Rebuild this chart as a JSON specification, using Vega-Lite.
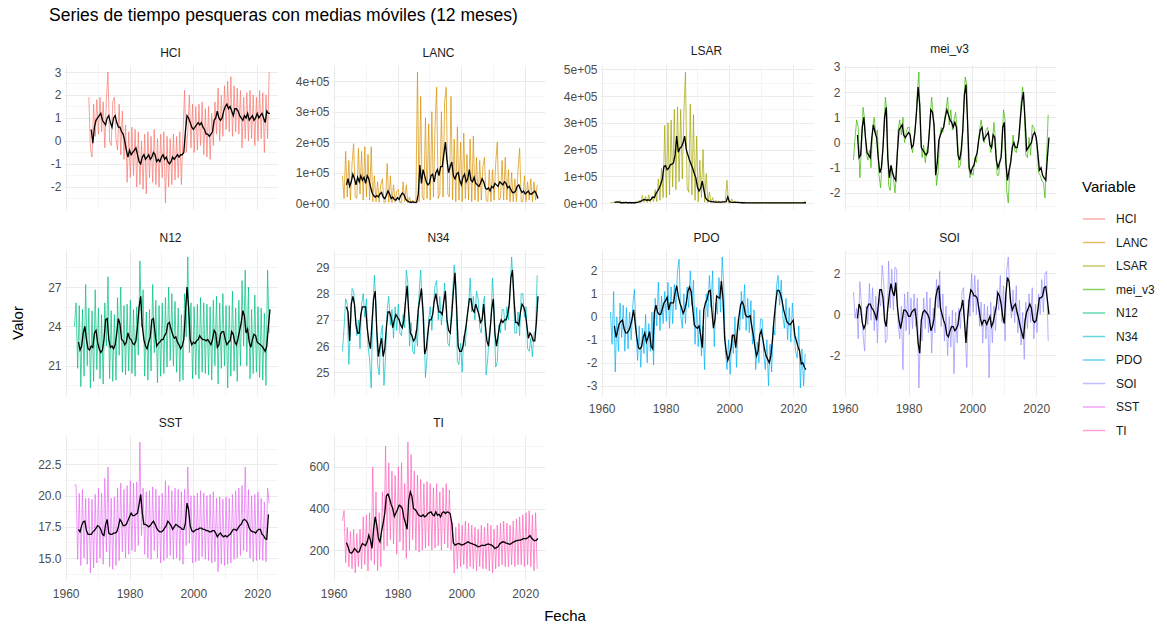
{
  "$schema": "https://vega.github.io/schema/vega-lite/v6.json",
  "background": "white",
  "padding": {"left": 10, "top": 7, "right": 5, "bottom": 5},
  "title": {"text": "Series de tiempo pesqueras con medias móviles (12 meses)", "anchor": "start", "fontSize": 17.5, "fontWeight": "normal", "color": "#000000", "offset": 18, "dx": 39},
  "data": {"values": [
    {"k":"r","t":1962.75,"LANC":90000,"LSAR":3000,"mei_v3":-0.7,"N12":24.0,"N34":25.8,"PDO":0.2,"SOI":1.1,"SST":20.8,"TI":340},
    {"k":"r","t":1963.25,"LANC":15000,"LSAR":1000,"mei_v3":0.2,"N12":25.8,"N34":26.7,"PDO":-1.2,"SOI":-0.2,"SST":20.9,"TI":390},
    {"k":"r","t":1963.75,"LANC":170000,"LSAR":4000,"mei_v3":0.9,"N12":20.8,"N34":27.8,"PDO":1.1,"SOI":0.3,"SST":14.9,"TI":140},
    {"k":"r","t":1964.25,"LANC":20000,"LSAR":1000,"mei_v3":0.6,"N12":25.6,"N34":27.6,"PDO":-2.4,"SOI":-1.2,"SST":20.2,"TI":310},
    {"k":"r","t":1964.75,"LANC":140000,"LSAR":6000,"mei_v3":-1.4,"N12":19.4,"N34":25.3,"PDO":0.0,"SOI":1.6,"SST":14.4,"TI":120},
    {"k":"r","t":1965.25,"LANC":10000,"LSAR":2000,"mei_v3":-0.3,"N12":25.3,"N34":26.6,"PDO":-1.5,"SOI":0.5,"SST":20.5,"TI":290},
    {"k":"r","t":1965.75,"LANC":130000,"LSAR":9000,"mei_v3":1.4,"N12":20.2,"N34":28.2,"PDO":0.6,"SOI":-1.0,"SST":15.0,"TI":110},
    {"k":"r","t":1966.25,"LANC":195000,"LSAR":500,"mei_v3":0.9,"N12":27.2,"N34":28.1,"PDO":-0.9,"SOI":-1.8,"SST":19.8,"TI":300},
    {"k":"r","t":1966.75,"LANC":20000,"LSAR":4000,"mei_v3":-0.4,"N12":21.0,"N34":27.2,"PDO":0.5,"SOI":0.4,"SST":14.5,"TI":90},
    {"k":"r","t":1967.25,"HCI":1.9,"LANC":15000,"LSAR":500,"mei_v3":-0.7,"N12":25.4,"N34":26.4,"PDO":-1.5,"SOI":-0.5,"SST":19.8,"TI":280},
    {"k":"r","t":1967.75,"HCI":-0.3,"LANC":180000,"LSAR":3000,"mei_v3":-0.3,"N12":19.3,"N34":27.0,"PDO":0.4,"SOI":1.5,"SST":13.8,"TI":120},
    {"k":"r","t":1968.25,"HCI":-0.7,"LANC":30000,"LSAR":500,"mei_v3":-1.0,"N12":25.2,"N34":25.9,"PDO":-1.4,"SOI":-0.3,"SST":19.7,"TI":300},
    {"k":"r","t":1968.75,"HCI":1.6,"LANC":170000,"LSAR":4000,"mei_v3":0.6,"N12":19.8,"N34":27.6,"PDO":0.2,"SOI":1.3,"SST":14.2,"TI":110},
    {"k":"r","t":1969.25,"HCI":0.2,"LANC":10000,"LSAR":500,"mei_v3":1.0,"N12":26.8,"N34":28.0,"PDO":-1.0,"SOI":-0.8,"SST":20.1,"TI":360},
    {"k":"r","t":1969.75,"HCI":1.8,"LANC":185000,"LSAR":3000,"mei_v3":0.3,"N12":20.7,"N34":27.1,"PDO":0.5,"SOI":0.9,"SST":14.6,"TI":130},
    {"k":"r","t":1970.25,"HCI":0.3,"LANC":20000,"LSAR":500,"mei_v3":0.5,"N12":25.4,"N34":27.8,"PDO":1.2,"SOI":-1.4,"SST":20.6,"TI":370},
    {"k":"r","t":1970.75,"HCI":1.9,"LANC":160000,"LSAR":5000,"mei_v3":-1.3,"N12":20.0,"N34":26.0,"PDO":-0.5,"SOI":0.8,"SST":15.0,"TI":100},
    {"k":"r","t":1971.25,"HCI":0.4,"LANC":10000,"LSAR":1000,"mei_v3":-1.8,"N12":24.9,"N34":25.5,"PDO":-1.9,"SOI":0.4,"SST":20.2,"TI":380},
    {"k":"r","t":1971.75,"HCI":1.7,"LANC":185000,"LSAR":10000,"mei_v3":-0.7,"N12":19.6,"N34":24.4,"PDO":-0.4,"SOI":2.4,"SST":14.5,"TI":150},
    {"k":"r","t":1972.25,"HCI":-0.3,"LANC":5000,"LSAR":2000,"mei_v3":0.4,"N12":25.8,"N34":27.3,"PDO":-2.2,"SOI":1.5,"SST":21.4,"TI":600},
    {"k":"r","t":1972.75,"HCI":1.8,"LANC":90000,"LSAR":28000,"mei_v3":1.8,"N12":22.5,"N34":28.7,"PDO":-0.5,"SOI":-1.4,"SST":15.5,"TI":130},
    {"k":"r","t":1973.25,"HCI":3.0,"LANC":5000,"LSAR":3000,"mei_v3":1.2,"N12":27.8,"N34":27.6,"PDO":-1.6,"SOI":-1.2,"SST":22.3,"TI":480},
    {"k":"r","t":1973.75,"HCI":0.0,"LANC":70000,"LSAR":25000,"mei_v3":-1.7,"N12":20.0,"N34":25.3,"PDO":0.1,"SOI":2.6,"SST":14.3,"TI":100},
    {"k":"r","t":1974.25,"HCI":-0.2,"LANC":3000,"LSAR":2000,"mei_v3":-1.9,"N12":25.2,"N34":24.9,"PDO":-2.0,"SOI":0.3,"SST":19.8,"TI":380},
    {"k":"r","t":1974.75,"HCI":1.7,"LANC":60000,"LSAR":30000,"mei_v3":-1.0,"N12":19.8,"N34":26.4,"PDO":-0.3,"SOI":2.2,"SST":14.1,"TI":120},
    {"k":"r","t":1975.25,"HCI":1.9,"LANC":80000,"LSAR":3000,"mei_v3":-1.4,"N12":24.9,"N34":26.8,"PDO":-1.5,"SOI":0.2,"SST":19.9,"TI":480},
    {"k":"r","t":1975.75,"HCI":0.1,"LANC":2000,"LSAR":25000,"mei_v3":-2.0,"N12":19.9,"N34":24.5,"PDO":0.2,"SOI":2.3,"SST":14.4,"TI":200},
    {"k":"r","t":1976.25,"HCI":-0.4,"LANC":5000,"LSAR":5000,"mei_v3":-1.2,"N12":26.2,"N34":25.6,"PDO":-2.1,"SOI":2.2,"SST":20.6,"TI":700},
    {"k":"r","t":1976.75,"HCI":1.6,"LANC":130000,"LSAR":50000,"mei_v3":0.5,"N12":21.8,"N34":27.4,"PDO":0.8,"SOI":-0.5,"SST":14.8,"TI":220},
    {"k":"r","t":1977.25,"HCI":-0.6,"LANC":3000,"LSAR":5000,"mei_v3":0.9,"N12":27.0,"N34":27.9,"PDO":-0.4,"SOI":-1.2,"SST":21.0,"TI":620},
    {"k":"r","t":1977.75,"HCI":1.3,"LANC":90000,"LSAR":90000,"mei_v3":0.3,"N12":20.5,"N34":26.8,"PDO":1.5,"SOI":0.4,"SST":15.5,"TI":250},
    {"k":"r","t":1978.25,"HCI":-0.8,"LANC":2000,"LSAR":10000,"mei_v3":1.0,"N12":25.6,"N34":27.4,"PDO":-0.6,"SOI":-2.7,"SST":20.5,"TI":580},
    {"k":"r","t":1978.75,"HCI":0.7,"LANC":60000,"LSAR":130000,"mei_v3":0.0,"N12":20.3,"N34":26.3,"PDO":0.9,"SOI":1.0,"SST":15.0,"TI":230},
    {"k":"r","t":1979.25,"HCI":-1.8,"LANC":3000,"LSAR":20000,"mei_v3":0.4,"N12":25.7,"N34":27.5,"PDO":-0.3,"SOI":-0.8,"SST":20.8,"TI":560},
    {"k":"r","t":1979.75,"HCI":0.4,"LANC":40000,"LSAR":290000,"mei_v3":0.6,"N12":20.6,"N34":26.6,"PDO":1.1,"SOI":1.1,"SST":15.3,"TI":180},
    {"k":"r","t":1980.25,"HCI":-1.6,"LANC":45000,"LSAR":20000,"mei_v3":0.6,"N12":26.0,"N34":27.6,"PDO":-0.2,"SOI":-1.0,"SST":21.2,"TI":600},
    {"k":"r","t":1980.75,"HCI":0.6,"LANC":2000,"LSAR":300000,"mei_v3":0.0,"N12":20.4,"N34":26.5,"PDO":1.5,"SOI":0.8,"SST":15.6,"TI":240},
    {"k":"r","t":1981.25,"HCI":-1.5,"LANC":2000,"LSAR":30000,"mei_v3":-0.4,"N12":25.3,"N34":26.4,"PDO":-0.5,"SOI":-0.7,"SST":21.0,"TI":620},
    {"k":"r","t":1981.75,"HCI":0.5,"LANC":70000,"LSAR":310000,"mei_v3":0.2,"N12":20.2,"N34":27.2,"PDO":1.3,"SOI":1.0,"SST":15.5,"TI":200},
    {"k":"r","t":1982.25,"HCI":-2.0,"LANC":5000,"LSAR":60000,"mei_v3":0.8,"N12":25.5,"N34":26.7,"PDO":-0.3,"SOI":-0.6,"SST":21.1,"TI":520},
    {"k":"r","t":1982.75,"HCI":0.4,"LANC":60000,"LSAR":350000,"mei_v3":2.0,"N12":21.8,"N34":28.9,"PDO":1.4,"SOI":0.8,"SST":16.0,"TI":160},
    {"k":"r","t":1983.25,"HCI":-1.9,"LANC":1000,"LSAR":50000,"mei_v3":2.8,"N12":29.0,"N34":28.4,"PDO":0.3,"SOI":-3.6,"SST":24.3,"TI":720},
    {"k":"r","t":1983.75,"HCI":0.0,"LANC":20000,"LSAR":360000,"mei_v3":0.5,"N12":24.0,"N34":26.0,"PDO":2.0,"SOI":-0.7,"SST":16.8,"TI":200},
    {"k":"r","t":1984.25,"HCI":-2.1,"LANC":500,"LSAR":80000,"mei_v3":-0.6,"N12":26.8,"N34":26.9,"PDO":2.5,"SOI":-1.3,"SST":20.6,"TI":660},
    {"k":"r","t":1984.75,"HCI":0.3,"LANC":10000,"LSAR":350000,"mei_v3":-0.1,"N12":20.2,"N34":25.8,"PDO":0.1,"SOI":0.8,"SST":15.3,"TI":250},
    {"k":"r","t":1985.25,"HCI":-2.3,"LANC":500,"LSAR":90000,"mei_v3":-0.8,"N12":25.1,"N34":25.7,"PDO":-0.5,"SOI":-0.7,"SST":20.3,"TI":580},
    {"k":"r","t":1985.75,"HCI":0.4,"LANC":8000,"LSAR":340000,"mei_v3":-0.3,"N12":19.9,"N34":26.6,"PDO":1.0,"SOI":1.1,"SST":15.0,"TI":200},
    {"k":"r","t":1986.25,"HCI":-1.6,"LANC":430000,"LSAR":490000,"mei_v3":-0.1,"N12":25.3,"N34":26.0,"PDO":-0.3,"SOI":-0.9,"SST":20.4,"TI":560},
    {"k":"r","t":1986.75,"HCI":0.2,"LANC":5000,"LSAR":60000,"mei_v3":1.0,"N12":20.6,"N34":28.0,"PDO":1.3,"SOI":0.8,"SST":14.9,"TI":190},
    {"k":"r","t":1987.25,"HCI":-1.8,"LANC":350000,"LSAR":40000,"mei_v3":1.8,"N12":27.2,"N34":28.9,"PDO":0.4,"SOI":-1.9,"SST":20.7,"TI":540},
    {"k":"r","t":1987.75,"HCI":0.5,"LANC":20000,"LSAR":370000,"mei_v3":1.0,"N12":22.0,"N34":27.5,"PDO":2.0,"SOI":0.3,"SST":15.6,"TI":200},
    {"k":"r","t":1988.25,"HCI":-1.9,"LANC":10000,"LSAR":30000,"mei_v3":0.3,"N12":26.0,"N34":27.0,"PDO":0.5,"SOI":-0.9,"SST":20.5,"TI":520},
    {"k":"r","t":1988.75,"HCI":0.1,"LANC":280000,"LSAR":330000,"mei_v3":-1.7,"N12":19.7,"N34":24.8,"PDO":1.6,"SOI":1.7,"SST":15.0,"TI":210},
    {"k":"r","t":1989.25,"HCI":-2.0,"LANC":15000,"LSAR":10000,"mei_v3":-1.2,"N12":25.6,"N34":25.6,"PDO":-1.2,"SOI":0.3,"SST":20.0,"TI":530},
    {"k":"r","t":1989.75,"HCI":0.3,"LANC":260000,"LSAR":250000,"mei_v3":0.2,"N12":20.2,"N34":27.0,"PDO":0.4,"SOI":2.1,"SST":14.6,"TI":220},
    {"k":"r","t":1990.25,"HCI":-1.6,"LANC":10000,"LSAR":5000,"mei_v3":0.6,"N12":25.8,"N34":27.5,"PDO":-1.3,"SOI":-0.6,"SST":20.2,"TI":520},
    {"k":"r","t":1990.75,"HCI":0.4,"LANC":300000,"LSAR":160000,"mei_v3":0.4,"N12":20.4,"N34":26.6,"PDO":0.3,"SOI":1.0,"SST":14.8,"TI":200},
    {"k":"r","t":1991.25,"HCI":-2.7,"LANC":20000,"LSAR":20000,"mei_v3":0.9,"N12":26.2,"N34":27.6,"PDO":-1.7,"SOI":-1.3,"SST":21.2,"TI":500},
    {"k":"r","t":1991.75,"HCI":0.2,"LANC":250000,"LSAR":200000,"mei_v3":1.3,"N12":20.9,"N34":28.3,"PDO":-0.4,"SOI":0.4,"SST":15.0,"TI":210},
    {"k":"r","t":1992.25,"HCI":-2.0,"LANC":380000,"LSAR":3000,"mei_v3":1.8,"N12":27.0,"N34":28.5,"PDO":-2.3,"SOI":-2.0,"SST":20.8,"TI":520},
    {"k":"r","t":1992.75,"HCI":0.1,"LANC":15000,"LSAR":110000,"mei_v3":0.7,"N12":21.4,"N34":27.0,"PDO":1.0,"SOI":-0.1,"SST":15.2,"TI":220},
    {"k":"r","t":1993.25,"HCI":-1.9,"LANC":30000,"LSAR":1000,"mei_v3":1.3,"N12":26.5,"N34":27.9,"PDO":0.0,"SOI":-1.6,"SST":20.4,"TI":480},
    {"k":"r","t":1993.75,"HCI":0.3,"LANC":300000,"LSAR":40000,"mei_v3":0.5,"N12":21.0,"N34":26.8,"PDO":1.8,"SOI":0.2,"SST":14.9,"TI":200},
    {"k":"r","t":1994.25,"HCI":-1.7,"LANC":20000,"LSAR":500,"mei_v3":0.9,"N12":25.9,"N34":27.5,"PDO":0.4,"SOI":-2.9,"SST":20.6,"TI":500},
    {"k":"r","t":1994.75,"HCI":0.2,"LANC":330000,"LSAR":20000,"mei_v3":1.2,"N12":20.5,"N34":28.4,"PDO":2.0,"SOI":0.1,"SST":15.0,"TI":230},
    {"k":"r","t":1995.25,"HCI":-1.6,"LANC":380000,"LSAR":500,"mei_v3":0.5,"N12":25.4,"N34":27.4,"PDO":-1.3,"SOI":-1.4,"SST":20.5,"TI":520},
    {"k":"r","t":1995.75,"HCI":0.4,"LANC":30000,"LSAR":10000,"mei_v3":-1.0,"N12":19.8,"N34":26.1,"PDO":0.6,"SOI":0.3,"SST":14.8,"TI":210},
    {"k":"r","t":1996.25,"HCI":-1.9,"LANC":20000,"LSAR":500,"mei_v3":-0.9,"N12":24.9,"N34":26.0,"PDO":0.1,"SOI":-0.7,"SST":20.3,"TI":490},
    {"k":"r","t":1996.75,"HCI":0.3,"LANC":350000,"LSAR":8000,"mei_v3":-0.2,"N12":19.9,"N34":27.1,"PDO":1.7,"SOI":1.1,"SST":14.5,"TI":200},
    {"k":"r","t":1997.25,"HCI":2.2,"LANC":10000,"LSAR":500,"mei_v3":1.2,"N12":26.5,"N34":28.0,"PDO":0.2,"SOI":1.3,"SST":20.5,"TI":330},
    {"k":"r","t":1997.75,"HCI":-0.5,"LANC":210000,"LSAR":6000,"mei_v3":2.6,"N12":23.2,"N34":29.1,"PDO":2.6,"SOI":-1.0,"SST":16.0,"TI":90},
    {"k":"r","t":1998.25,"HCI":0.4,"LANC":5000,"LSAR":500,"mei_v3":2.3,"N12":29.3,"N34":28.4,"PDO":1.3,"SOI":-2.6,"SST":22.3,"TI":310},
    {"k":"r","t":1998.75,"HCI":2.0,"LANC":250000,"LSAR":10000,"mei_v3":-0.8,"N12":22.0,"N34":25.4,"PDO":-1.5,"SOI":0.7,"SST":16.2,"TI":110},
    {"k":"r","t":1999.25,"HCI":-0.3,"LANC":10000,"LSAR":85000,"mei_v3":-1.4,"N12":25.8,"N34":25.3,"PDO":-2.3,"SOI":-0.1,"SST":20.0,"TI":330},
    {"k":"r","t":1999.75,"HCI":1.6,"LANC":200000,"LSAR":500,"mei_v3":-1.2,"N12":20.0,"N34":26.1,"PDO":-1.0,"SOI":2.0,"SST":14.6,"TI":120},
    {"k":"r","t":2000.25,"HCI":-0.5,"LANC":5000,"LSAR":500,"mei_v3":-1.3,"N12":25.5,"N34":25.0,"PDO":-2.5,"SOI":0.1,"SST":20.0,"TI":320},
    {"k":"r","t":2000.75,"HCI":1.5,"LANC":230000,"LSAR":15000,"mei_v3":-0.6,"N12":20.3,"N34":26.4,"PDO":-0.8,"SOI":1.9,"SST":14.7,"TI":130},
    {"k":"r","t":2001.25,"HCI":-0.4,"LANC":15000,"LSAR":500,"mei_v3":-0.8,"N12":25.7,"N34":26.0,"PDO":-1.6,"SOI":0.0,"SST":20.2,"TI":340},
    {"k":"r","t":2001.75,"HCI":1.6,"LANC":160000,"LSAR":8000,"mei_v3":-0.1,"N12":20.0,"N34":27.1,"PDO":0.0,"SOI":1.7,"SST":14.8,"TI":110},
    {"k":"r","t":2002.25,"HCI":-0.2,"LANC":10000,"LSAR":500,"mei_v3":0.5,"N12":26.2,"N34":27.5,"PDO":-2.2,"SOI":-0.6,"SST":20.4,"TI":330},
    {"k":"r","t":2002.75,"HCI":1.7,"LANC":210000,"LSAR":6000,"mei_v3":0.9,"N12":20.5,"N34":28.6,"PDO":-0.1,"SOI":0.6,"SST":15.1,"TI":120},
    {"k":"r","t":2003.25,"HCI":-0.6,"LANC":5000,"LSAR":200,"mei_v3":0.4,"N12":25.8,"N34":27.3,"PDO":-0.6,"SOI":-1.4,"SST":20.2,"TI":320},
    {"k":"r","t":2003.75,"HCI":1.4,"LANC":220000,"LSAR":4000,"mei_v3":0.0,"N12":20.4,"N34":27.9,"PDO":1.1,"SOI":0.5,"SST":14.9,"TI":110},
    {"k":"r","t":2004.25,"HCI":-0.7,"LANC":10000,"LSAR":200,"mei_v3":0.5,"N12":25.7,"N34":27.0,"PDO":-0.1,"SOI":-1.2,"SST":20.0,"TI":310},
    {"k":"r","t":2004.75,"HCI":1.5,"LANC":150000,"LSAR":3000,"mei_v3":0.6,"N12":20.3,"N34":28.1,"PDO":1.4,"SOI":0.4,"SST":14.8,"TI":100},
    {"k":"r","t":2005.25,"HCI":-0.8,"LANC":5000,"LSAR":100,"mei_v3":0.2,"N12":25.5,"N34":27.8,"PDO":-0.6,"SOI":-3.1,"SST":20.1,"TI":300},
    {"k":"r","t":2005.75,"HCI":1.2,"LANC":140000,"LSAR":1500,"mei_v3":-0.4,"N12":19.9,"N34":26.7,"PDO":0.8,"SOI":0.6,"SST":14.6,"TI":120},
    {"k":"r","t":2006.25,"HCI":-0.2,"LANC":10000,"LSAR":100,"mei_v3":-0.1,"N12":26.0,"N34":26.5,"PDO":-0.7,"SOI":-1.4,"SST":20.3,"TI":320},
    {"k":"r","t":2006.75,"HCI":1.7,"LANC":120000,"LSAR":1200,"mei_v3":0.8,"N12":21.0,"N34":27.6,"PDO":0.7,"SOI":0.4,"SST":14.7,"TI":110},
    {"k":"r","t":2007.25,"HCI":0.3,"LANC":150000,"LSAR":0,"mei_v3":0.1,"N12":26.3,"N34":27.9,"PDO":-1.2,"SOI":-0.8,"SST":19.8,"TI":310},
    {"k":"r","t":2007.75,"HCI":2.3,"LANC":10000,"LSAR":1000,"mei_v3":-1.3,"N12":19.6,"N34":24.9,"PDO":0.3,"SOI":1.2,"SST":13.9,"TI":110},
    {"k":"r","t":2008.25,"HCI":0.0,"LANC":5000,"LSAR":0,"mei_v3":-1.3,"N12":25.8,"N34":25.5,"PDO":-2.3,"SOI":0.2,"SST":19.9,"TI":330},
    {"k":"r","t":2008.75,"HCI":2.0,"LANC":110000,"LSAR":1000,"mei_v3":-0.6,"N12":20.8,"N34":26.5,"PDO":-1.1,"SOI":1.9,"SST":14.5,"TI":100},
    {"k":"r","t":2009.25,"HCI":0.2,"LANC":5000,"LSAR":0,"mei_v3":-0.4,"N12":26.5,"N34":27.0,"PDO":-2.0,"SOI":-0.4,"SST":19.7,"TI":320},
    {"k":"r","t":2009.75,"HCI":2.4,"LANC":110000,"LSAR":800,"mei_v3":1.3,"N12":21.0,"N34":28.6,"PDO":-0.1,"SOI":1.4,"SST":14.4,"TI":90},
    {"k":"r","t":2010.25,"HCI":0.5,"LANC":10000,"LSAR":0,"mei_v3":0.9,"N12":25.6,"N34":27.4,"PDO":-0.1,"SOI":-1.3,"SST":19.9,"TI":300},
    {"k":"r","t":2010.75,"HCI":2.6,"LANC":130000,"LSAR":800,"mei_v3":-1.9,"N12":19.3,"N34":25.2,"PDO":-1.6,"SOI":2.1,"SST":14.5,"TI":110},
    {"k":"r","t":2011.25,"HCI":0.4,"LANC":200000,"LSAR":0,"mei_v3":-2.4,"N12":25.6,"N34":25.4,"PDO":-2.3,"SOI":2.8,"SST":19.8,"TI":320},
    {"k":"r","t":2011.75,"HCI":2.8,"LANC":10000,"LSAR":1000,"mei_v3":-0.9,"N12":20.2,"N34":26.8,"PDO":-1.0,"SOI":0.9,"SST":14.6,"TI":120},
    {"k":"r","t":2012.25,"HCI":0.2,"LANC":15000,"LSAR":0,"mei_v3":-0.5,"N12":26.7,"N34":26.5,"PDO":-3.0,"SOI":-0.2,"SST":20.1,"TI":330},
    {"k":"r","t":2012.75,"HCI":2.4,"LANC":140000,"LSAR":800,"mei_v3":0.3,"N12":20.6,"N34":27.4,"PDO":-1.2,"SOI":1.2,"SST":14.9,"TI":130},
    {"k":"r","t":2013.25,"HCI":0.4,"LANC":10000,"LSAR":0,"mei_v3":-0.3,"N12":25.4,"N34":27.4,"PDO":-2.4,"SOI":-0.4,"SST":20.4,"TI":340},
    {"k":"r","t":2013.75,"HCI":2.3,"LANC":150000,"LSAR":800,"mei_v3":-0.4,"N12":19.8,"N34":26.6,"PDO":-0.4,"SOI":1.4,"SST":15.0,"TI":120},
    {"k":"r","t":2014.25,"HCI":0.3,"LANC":10000,"LSAR":0,"mei_v3":0.0,"N12":26.0,"N34":27.5,"PDO":-0.8,"SOI":-0.9,"SST":20.6,"TI":330},
    {"k":"r","t":2014.75,"HCI":2.2,"LANC":110000,"LSAR":800,"mei_v3":0.4,"N12":21.0,"N34":27.0,"PDO":1.3,"SOI":0.7,"SST":15.2,"TI":120},
    {"k":"r","t":2015.25,"HCI":-0.3,"LANC":5000,"LSAR":0,"mei_v3":1.6,"N12":27.5,"N34":28.1,"PDO":1.8,"SOI":-1.5,"SST":20.8,"TI":320},
    {"k":"r","t":2015.75,"HCI":1.9,"LANC":100000,"LSAR":800,"mei_v3":2.2,"N12":22.5,"N34":29.4,"PDO":0.5,"SOI":0.1,"SST":15.6,"TI":130},
    {"k":"r","t":2016.25,"HCI":0.1,"LANC":5000,"LSAR":0,"mei_v3":1.4,"N12":28.3,"N34":28.3,"PDO":1.6,"SOI":-2.2,"SST":22.3,"TI":340},
    {"k":"r","t":2016.75,"HCI":2.1,"LANC":80000,"LSAR":800,"mei_v3":-0.5,"N12":21.0,"N34":26.5,"PDO":0.0,"SOI":0.6,"SST":15.5,"TI":120},
    {"k":"r","t":2017.25,"HCI":0.0,"LANC":5000,"LSAR":0,"mei_v3":-0.6,"N12":27.0,"N34":26.5,"PDO":-0.5,"SOI":-0.7,"SST":20.5,"TI":350},
    {"k":"r","t":2017.75,"HCI":2.2,"LANC":110000,"LSAR":800,"mei_v3":0.2,"N12":20.0,"N34":27.3,"PDO":0.8,"SOI":1.0,"SST":15.0,"TI":130},
    {"k":"r","t":2018.25,"HCI":0.1,"LANC":180000,"LSAR":0,"mei_v3":-0.5,"N12":25.3,"N34":26.4,"PDO":-1.0,"SOI":-0.4,"SST":20.0,"TI":360},
    {"k":"r","t":2018.75,"HCI":2.0,"LANC":5000,"LSAR":800,"mei_v3":0.7,"N12":20.4,"N34":28.0,"PDO":0.4,"SOI":1.3,"SST":14.7,"TI":130},
    {"k":"r","t":2019.25,"HCI":-0.2,"LANC":5000,"LSAR":0,"mei_v3":0.6,"N12":26.4,"N34":28.0,"PDO":-1.1,"SOI":-1.2,"SST":20.1,"TI":370},
    {"k":"r","t":2019.75,"HCI":1.9,"LANC":90000,"LSAR":800,"mei_v3":0.3,"N12":20.5,"N34":27.1,"PDO":0.6,"SOI":0.5,"SST":14.8,"TI":120},
    {"k":"r","t":2020.25,"HCI":0.0,"LANC":5000,"LSAR":0,"mei_v3":-0.1,"N12":25.5,"N34":27.5,"PDO":-0.6,"SOI":-0.9,"SST":20.3,"TI":380},
    {"k":"r","t":2020.75,"HCI":2.2,"LANC":70000,"LSAR":800,"mei_v3":-1.2,"N12":20.1,"N34":25.9,"PDO":-1.5,"SOI":1.0,"SST":14.9,"TI":130},
    {"k":"r","t":2021.25,"HCI":0.1,"LANC":10000,"LSAR":0,"mei_v3":-1.3,"N12":25.4,"N34":25.8,"PDO":-1.8,"SOI":0.0,"SST":19.8,"TI":390},
    {"k":"r","t":2021.75,"HCI":2.1,"LANC":80000,"LSAR":800,"mei_v3":-1.5,"N12":19.9,"N34":26.3,"PDO":-0.4,"SOI":1.7,"SST":14.8,"TI":120},
    {"k":"r","t":2022.25,"HCI":-0.5,"LANC":5000,"LSAR":0,"mei_v3":-1.6,"N12":25.0,"N34":25.6,"PDO":-3.1,"SOI":0.1,"SST":19.5,"TI":370},
    {"k":"r","t":2022.75,"HCI":2.0,"LANC":70000,"LSAR":1000,"mei_v3":-2.2,"N12":19.5,"N34":26.5,"PDO":-1.4,"SOI":2.0,"SST":14.7,"TI":100},
    {"k":"r","t":2023.25,"HCI":0.1,"LANC":10000,"LSAR":0,"mei_v3":-0.6,"N12":28.3,"N34":26.6,"PDO":-3.0,"SOI":2.1,"SST":20.6,"TI":380},
    {"k":"r","t":2023.75,"HCI":3.0,"LANC":60000,"LSAR":8000,"mei_v3":1.1,"N12":23.5,"N34":28.7,"PDO":-1.6,"SOI":-1.3,"SST":19.4,"TI":110},

    {"k":"m","t":1964.0,"LANC":60000,"LSAR":2000,"mei_v3":0.3,"N12":22.8,"N34":27.5,"PDO":-0.4,"SOI":-0.2,"SST":17.3,"TI":236},
    {"k":"m","t":1964.5,"LANC":80000,"LSAR":3000,"mei_v3":-0.6,"N12":22.2,"N34":27.3,"PDO":-0.9,"SOI":0.5,"SST":17.1,"TI":216},
    {"k":"m","t":1965.0,"LANC":55000,"LSAR":4000,"mei_v3":-0.5,"N12":22.5,"N34":26.2,"PDO":-0.6,"SOI":0.3,"SST":17.6,"TI":190},
    {"k":"m","t":1965.5,"LANC":70000,"LSAR":3000,"mei_v3":0.6,"N12":23.5,"N34":27.6,"PDO":-0.3,"SOI":-0.4,"SST":17.9,"TI":185},
    {"k":"m","t":1966.0,"LANC":95000,"LSAR":1000,"mei_v3":1.0,"N12":24.0,"N34":27.9,"PDO":-0.2,"SOI":-0.7,"SST":17.95,"TI":192},
    {"k":"m","t":1966.5,"LANC":80000,"LSAR":1000,"mei_v3":0.2,"N12":23.0,"N34":27.6,"PDO":-0.15,"SOI":-0.5,"SST":17.2,"TI":208},
    {"k":"m","t":1967.0,"LANC":60000,"LSAR":1000,"mei_v3":-0.4,"N12":22.3,"N34":26.8,"PDO":-0.5,"SOI":0.3,"SST":16.9,"TI":200},
    {"k":"m","t":1967.5,"LANC":85000,"LSAR":2000,"mei_v3":-0.5,"N12":22.2,"N34":26.5,"PDO":-0.7,"SOI":0.5,"SST":16.9,"TI":190},
    {"k":"m","t":1968.0,"HCI":0.5,"LANC":70000,"LSAR":1000,"mei_v3":-0.6,"N12":22.5,"N34":26.5,"PDO":-0.7,"SOI":0.5,"SST":16.9,"TI":192},
    {"k":"m","t":1968.5,"HCI":-0.1,"LANC":90000,"LSAR":1000,"mei_v3":0.2,"N12":22.4,"N34":27.2,"PDO":-0.6,"SOI":0.3,"SST":17.1,"TI":215},
    {"k":"m","t":1969.0,"HCI":0.6,"LANC":75000,"LSAR":1000,"mei_v3":0.7,"N12":23.5,"N34":27.5,"PDO":-0.4,"SOI":0.2,"SST":17.2,"TI":232},
    {"k":"m","t":1969.5,"HCI":0.9,"LANC":85000,"LSAR":1000,"mei_v3":0.4,"N12":23.7,"N34":27.5,"PDO":-0.1,"SOI":0.0,"SST":17.4,"TI":226},
    {"k":"m","t":1970.0,"HCI":1.0,"LANC":65000,"LSAR":1000,"mei_v3":0.2,"N12":22.8,"N34":27.5,"PDO":0.3,"SOI":-0.3,"SST":17.6,"TI":222},
    {"k":"m","t":1970.5,"HCI":1.1,"LANC":90000,"LSAR":1000,"mei_v3":-0.6,"N12":22.3,"N34":26.7,"PDO":-0.3,"SOI":0.4,"SST":17.5,"TI":240},
    {"k":"m","t":1971.0,"HCI":1.2,"LANC":80000,"LSAR":2000,"mei_v3":-1.2,"N12":22.0,"N34":26.2,"PDO":-0.9,"SOI":1.2,"SST":17.3,"TI":272},
    {"k":"m","t":1971.5,"HCI":0.9,"LANC":55000,"LSAR":3000,"mei_v3":-1.0,"N12":22.2,"N34":25.9,"PDO":-1.35,"SOI":1.2,"SST":16.9,"TI":248},
    {"k":"m","t":1972.0,"HCI":0.8,"LANC":35000,"LSAR":5000,"mei_v3":-0.2,"N12":23.0,"N34":26.9,"PDO":-1.4,"SOI":0.8,"SST":16.8,"TI":208},
    {"k":"m","t":1972.5,"HCI":0.7,"LANC":25000,"LSAR":8000,"mei_v3":1.0,"N12":24.5,"N34":27.8,"PDO":-1.3,"SOI":-0.3,"SST":17.7,"TI":300},
    {"k":"m","t":1973.0,"HCI":1.0,"LANC":20000,"LSAR":12000,"mei_v3":1.4,"N12":24.6,"N34":28.1,"PDO":-0.9,"SOI":-0.6,"SST":18.1,"TI":360},
    {"k":"m","t":1973.5,"HCI":1.1,"LANC":25000,"LSAR":13000,"mei_v3":-0.6,"N12":23.0,"N34":26.6,"PDO":-0.7,"SOI":0.3,"SST":17.0,"TI":320},
    {"k":"m","t":1974.0,"HCI":0.8,"LANC":20000,"LSAR":10000,"mei_v3":-1.4,"N12":22.4,"N34":25.6,"PDO":-1.1,"SOI":1.0,"SST":16.9,"TI":256},
    {"k":"m","t":1974.5,"HCI":0.6,"LANC":30000,"LSAR":12000,"mei_v3":-0.9,"N12":22.5,"N34":26.0,"PDO":-0.9,"SOI":1.5,"SST":16.9,"TI":240},
    {"k":"m","t":1975.0,"HCI":1.0,"LANC":35000,"LSAR":10000,"mei_v3":-1.2,"N12":22.3,"N34":26.3,"PDO":-0.65,"SOI":1.1,"SST":17.0,"TI":290},
    {"k":"m","t":1975.5,"HCI":1.1,"LANC":20000,"LSAR":14000,"mei_v3":-1.4,"N12":22.6,"N34":25.6,"PDO":-1.3,"SOI":0.9,"SST":17.0,"TI":330},
    {"k":"m","t":1976.0,"HCI":0.8,"LANC":15000,"LSAR":22000,"mei_v3":-1.5,"N12":23.5,"N34":25.9,"PDO":-1.4,"SOI":1.55,"SST":17.1,"TI":376},
    {"k":"m","t":1976.5,"HCI":0.6,"LANC":25000,"LSAR":20000,"mei_v3":-0.4,"N12":24.6,"N34":26.7,"PDO":0.2,"SOI":0.4,"SST":17.5,"TI":460},
    {"k":"m","t":1977.0,"HCI":0.6,"LANC":40000,"LSAR":35000,"mei_v3":0.5,"N12":24.2,"N34":27.3,"PDO":0.5,"SOI":-0.3,"SST":18.1,"TI":470},
    {"k":"m","t":1977.5,"HCI":0.4,"LANC":30000,"LSAR":45000,"mei_v3":0.6,"N12":23.0,"N34":27.3,"PDO":0.2,"SOI":-0.7,"SST":17.9,"TI":448},
    {"k":"m","t":1978.0,"HCI":0.3,"LANC":15000,"LSAR":55000,"mei_v3":0.7,"N12":22.9,"N34":27.1,"PDO":0.1,"SOI":-0.3,"SST":17.6,"TI":420},
    {"k":"m","t":1978.5,"HCI":0.0,"LANC":20000,"LSAR":70000,"mei_v3":0.3,"N12":22.6,"N34":26.7,"PDO":0.1,"SOI":0.2,"SST":17.6,"TI":400},
    {"k":"m","t":1979.0,"HCI":-0.4,"LANC":12000,"LSAR":90000,"mei_v3":0.2,"N12":22.8,"N34":27.0,"PDO":0.35,"SOI":0.2,"SST":17.7,"TI":362},
    {"k":"m","t":1979.5,"HCI":-0.7,"LANC":10000,"LSAR":137000,"mei_v3":0.3,"N12":23.5,"N34":27.2,"PDO":0.6,"SOI":0.1,"SST":18.0,"TI":380},
    {"k":"m","t":1980.0,"HCI":-0.4,"LANC":18000,"LSAR":140000,"mei_v3":0.4,"N12":23.1,"N34":27.1,"PDO":0.7,"SOI":-0.1,"SST":18.3,"TI":395},
    {"k":"m","t":1980.5,"HCI":-0.6,"LANC":12000,"LSAR":125000,"mei_v3":0.3,"N12":23.0,"N34":27.0,"PDO":0.85,"SOI":-0.1,"SST":18.6,"TI":416},
    {"k":"m","t":1981.0,"HCI":-0.5,"LANC":25000,"LSAR":130000,"mei_v3":-0.2,"N12":22.7,"N34":26.8,"PDO":0.3,"SOI":0.1,"SST":18.4,"TI":412},
    {"k":"m","t":1981.5,"HCI":-0.4,"LANC":33000,"LSAR":143000,"mei_v3":-0.1,"N12":22.6,"N34":26.7,"PDO":0.6,"SOI":0.2,"SST":18.4,"TI":400},
    {"k":"m","t":1982.0,"HCI":-0.3,"LANC":28000,"LSAR":145000,"mei_v3":0.4,"N12":22.9,"N34":27.0,"PDO":0.6,"SOI":0.25,"SST":18.5,"TI":355},
    {"k":"m","t":1982.5,"HCI":-0.6,"LANC":15000,"LSAR":150000,"mei_v3":1.2,"N12":24.0,"N34":27.7,"PDO":0.6,"SOI":-0.3,"SST":18.6,"TI":330},
    {"k":"m","t":1983.0,"HCI":-0.9,"LANC":8000,"LSAR":180000,"mei_v3":2.2,"N12":25.5,"N34":28.3,"PDO":1.05,"SOI":-1.4,"SST":19.3,"TI":300},
    {"k":"m","t":1983.5,"HCI":-1.0,"LANC":5000,"LSAR":250000,"mei_v3":1.5,"N12":26.3,"N34":27.3,"PDO":1.35,"SOI":-1.9,"SST":20.1,"TI":440},
    {"k":"m","t":1984.0,"HCI":-0.7,"LANC":3000,"LSAR":190000,"mei_v3":-0.2,"N12":24.0,"N34":26.5,"PDO":0.9,"SOI":-0.3,"SST":18.6,"TI":480},
    {"k":"m","t":1984.5,"HCI":-0.6,"LANC":3000,"LSAR":205000,"mei_v3":-0.3,"N12":23.0,"N34":26.4,"PDO":0.6,"SOI":0.1,"SST":17.7,"TI":460},
    {"k":"m","t":1985.0,"HCI":-0.8,"LANC":4000,"LSAR":210000,"mei_v3":-0.4,"N12":22.5,"N34":26.2,"PDO":0.4,"SOI":0.2,"SST":17.7,"TI":400},
    {"k":"m","t":1985.5,"HCI":-0.7,"LANC":2000,"LSAR":225000,"mei_v3":-0.5,"N12":22.3,"N34":26.3,"PDO":0.15,"SOI":0.1,"SST":17.6,"TI":395},
    {"k":"m","t":1986.0,"HCI":-0.6,"LANC":3000,"LSAR":250000,"mei_v3":-0.4,"N12":22.8,"N34":26.6,"PDO":0.3,"SOI":0.0,"SST":17.5,"TI":385},
    {"k":"m","t":1986.5,"HCI":-0.8,"LANC":30000,"LSAR":200000,"mei_v3":0.4,"N12":23.2,"N34":27.4,"PDO":0.6,"SOI":-0.2,"SST":17.6,"TI":370},
    {"k":"m","t":1987.0,"HCI":-0.7,"LANC":125000,"LSAR":180000,"mei_v3":1.3,"N12":24.5,"N34":27.8,"PDO":1.1,"SOI":-0.8,"SST":17.8,"TI":365},
    {"k":"m","t":1987.5,"HCI":-0.5,"LANC":65000,"LSAR":161000,"mei_v3":1.2,"N12":24.6,"N34":28.2,"PDO":1.3,"SOI":-0.6,"SST":17.95,"TI":362},
    {"k":"m","t":1988.0,"HCI":-0.6,"LANC":110000,"LSAR":145000,"mei_v3":0.7,"N12":23.5,"N34":27.3,"PDO":1.1,"SOI":-0.2,"SST":17.7,"TI":370},
    {"k":"m","t":1988.5,"HCI":-0.9,"LANC":90000,"LSAR":130000,"mei_v3":-1.3,"N12":22.5,"N34":25.7,"PDO":0.4,"SOI":0.8,"SST":17.4,"TI":360},
    {"k":"m","t":1989.0,"HCI":-0.8,"LANC":70000,"LSAR":110000,"mei_v3":-0.8,"N12":22.7,"N34":25.9,"PDO":-0.35,"SOI":1.2,"SST":17.2,"TI":365},
    {"k":"m","t":1989.5,"HCI":-0.9,"LANC":60000,"LSAR":94000,"mei_v3":0.1,"N12":22.8,"N34":26.5,"PDO":-0.45,"SOI":1.4,"SST":17.1,"TI":376},
    {"k":"m","t":1990.0,"HCI":-0.7,"LANC":65000,"LSAR":60000,"mei_v3":0.3,"N12":23.0,"N34":27.0,"PDO":-0.5,"SOI":0.3,"SST":17.1,"TI":380},
    {"k":"m","t":1990.5,"HCI":-0.6,"LANC":90000,"LSAR":45000,"mei_v3":0.5,"N12":23.0,"N34":27.0,"PDO":-0.4,"SOI":0.0,"SST":17.2,"TI":384},
    {"k":"m","t":1991.0,"HCI":-0.8,"LANC":95000,"LSAR":55000,"mei_v3":0.6,"N12":23.3,"N34":27.2,"PDO":-0.8,"SOI":-0.3,"SST":17.4,"TI":370},
    {"k":"m","t":1991.5,"HCI":-0.7,"LANC":70000,"LSAR":82000,"mei_v3":1.0,"N12":23.5,"N34":27.7,"PDO":-1.35,"SOI":-0.5,"SST":17.6,"TI":365},
    {"k":"m","t":1992.0,"HCI":-0.9,"LANC":100000,"LSAR":50000,"mei_v3":1.3,"N12":24.2,"N34":28.0,"PDO":0.3,"SOI":-1.0,"SST":17.95,"TI":384},
    {"k":"m","t":1992.5,"HCI":-1.0,"LANC":110000,"LSAR":20000,"mei_v3":1.1,"N12":24.3,"N34":27.6,"PDO":0.6,"SOI":-1.1,"SST":17.8,"TI":368},
    {"k":"m","t":1993.0,"HCI":-0.9,"LANC":90000,"LSAR":12000,"mei_v3":0.9,"N12":23.8,"N34":27.3,"PDO":0.75,"SOI":-0.8,"SST":17.6,"TI":372},
    {"k":"m","t":1993.5,"HCI":-0.7,"LANC":120000,"LSAR":8000,"mei_v3":0.8,"N12":23.4,"N34":27.3,"PDO":1.1,"SOI":-0.6,"SST":17.3,"TI":360},
    {"k":"m","t":1994.0,"HCI":-0.8,"LANC":120000,"LSAR":6000,"mei_v3":0.6,"N12":23.1,"N34":27.2,"PDO":1.15,"SOI":-0.6,"SST":17.5,"TI":380},
    {"k":"m","t":1994.5,"HCI":-0.7,"LANC":160000,"LSAR":5000,"mei_v3":0.8,"N12":23.2,"N34":27.7,"PDO":0.3,"SOI":-0.8,"SST":17.7,"TI":384},
    {"k":"m","t":1995.0,"HCI":-0.6,"LANC":200000,"LSAR":4000,"mei_v3":0.6,"N12":22.8,"N34":28.1,"PDO":-0.5,"SOI":-0.7,"SST":17.6,"TI":376},
    {"k":"m","t":1995.5,"HCI":-0.7,"LANC":140000,"LSAR":3000,"mei_v3":-0.5,"N12":22.6,"N34":27.0,"PDO":-0.1,"SOI":-0.5,"SST":17.5,"TI":384},
    {"k":"m","t":1996.0,"HCI":-0.6,"LANC":100000,"LSAR":3000,"mei_v3":-0.7,"N12":22.3,"N34":26.6,"PDO":0.9,"SOI":0.1,"SST":17.45,"TI":382},
    {"k":"m","t":1996.5,"HCI":-0.6,"LANC":120000,"LSAR":3000,"mei_v3":-0.3,"N12":22.5,"N34":26.5,"PDO":0.85,"SOI":0.3,"SST":17.3,"TI":375},
    {"k":"m","t":1997.0,"HCI":-0.5,"LANC":135000,"LSAR":3000,"mei_v3":0.5,"N12":23.0,"N34":27.2,"PDO":0.8,"SOI":0.7,"SST":17.3,"TI":330},
    {"k":"m","t":1997.5,"HCI":0.4,"LANC":90000,"LSAR":3000,"mei_v3":1.9,"N12":25.0,"N34":28.1,"PDO":1.55,"SOI":-0.3,"SST":17.8,"TI":235},
    {"k":"m","t":1998.0,"HCI":1.1,"LANC":80000,"LSAR":4000,"mei_v3":2.3,"N12":27.0,"N34":28.8,"PDO":0.8,"SOI":-1.4,"SST":19.4,"TI":224},
    {"k":"m","t":1998.5,"HCI":1.0,"LANC":95000,"LSAR":4000,"mei_v3":0.8,"N12":25.5,"N34":27.5,"PDO":-0.9,"SOI":-0.2,"SST":18.9,"TI":228},
    {"k":"m","t":1999.0,"HCI":0.8,"LANC":100000,"LSAR":5000,"mei_v3":-1.0,"N12":23.0,"N34":26.0,"PDO":-1.5,"SOI":0.7,"SST":17.6,"TI":232},
    {"k":"m","t":1999.5,"HCI":0.6,"LANC":75000,"LSAR":23000,"mei_v3":-1.2,"N12":22.6,"N34":25.8,"PDO":-1.9,"SOI":1.2,"SST":17.2,"TI":230},
    {"k":"m","t":2000.0,"HCI":0.5,"LANC":60000,"LSAR":5000,"mei_v3":-1.0,"N12":22.8,"N34":25.8,"PDO":-1.7,"SOI":1.1,"SST":17.1,"TI":224},
    {"k":"m","t":2000.5,"HCI":0.6,"LANC":85000,"LSAR":3000,"mei_v3":-0.9,"N12":22.7,"N34":26.0,"PDO":-1.35,"SOI":0.9,"SST":17.2,"TI":226},
    {"k":"m","t":2001.0,"HCI":0.7,"LANC":95000,"LSAR":2000,"mei_v3":-0.6,"N12":22.9,"N34":26.4,"PDO":-0.8,"SOI":0.9,"SST":17.3,"TI":230},
    {"k":"m","t":2001.5,"HCI":0.8,"LANC":70000,"LSAR":2000,"mei_v3":-0.4,"N12":23.0,"N34":26.8,"PDO":-0.8,"SOI":0.8,"SST":17.3,"TI":234},
    {"k":"m","t":2002.0,"HCI":0.7,"LANC":80000,"LSAR":2000,"mei_v3":0.1,"N12":23.3,"N34":27.3,"PDO":-1.35,"SOI":0.3,"SST":17.4,"TI":240},
    {"k":"m","t":2002.5,"HCI":0.8,"LANC":110000,"LSAR":2000,"mei_v3":0.5,"N12":23.1,"N34":27.8,"PDO":-0.6,"SOI":-0.2,"SST":17.4,"TI":236},
    {"k":"m","t":2003.0,"HCI":0.6,"LANC":75000,"LSAR":1500,"mei_v3":0.6,"N12":23.0,"N34":27.8,"PDO":0.0,"SOI":-0.5,"SST":17.3,"TI":232},
    {"k":"m","t":2003.5,"HCI":0.5,"LANC":70000,"LSAR":1500,"mei_v3":0.1,"N12":23.0,"N34":27.4,"PDO":0.5,"SOI":-0.3,"SST":17.3,"TI":230},
    {"k":"m","t":2004.0,"HCI":0.3,"LANC":85000,"LSAR":1000,"mei_v3":0.2,"N12":22.9,"N34":27.3,"PDO":0.65,"SOI":-0.3,"SST":17.2,"TI":226},
    {"k":"m","t":2004.5,"HCI":0.3,"LANC":65000,"LSAR":1000,"mei_v3":0.3,"N12":23.0,"N34":27.6,"PDO":0.5,"SOI":-0.5,"SST":17.2,"TI":224},
    {"k":"m","t":2005.0,"HCI":0.2,"LANC":60000,"LSAR":500,"mei_v3":0.4,"N12":22.8,"N34":27.4,"PDO":0.1,"SOI":-0.3,"SST":17.1,"TI":218},
    {"k":"m","t":2005.5,"HCI":0.3,"LANC":55000,"LSAR":500,"mei_v3":-0.1,"N12":22.6,"N34":27.2,"PDO":0.0,"SOI":-0.1,"SST":17.1,"TI":216},
    {"k":"m","t":2006.0,"HCI":0.4,"LANC":65000,"LSAR":500,"mei_v3":-0.2,"N12":23.0,"N34":26.9,"PDO":0.0,"SOI":-0.6,"SST":17.2,"TI":220},
    {"k":"m","t":2006.5,"HCI":0.9,"LANC":80000,"LSAR":500,"mei_v3":0.3,"N12":23.7,"N34":27.0,"PDO":0.05,"SOI":-0.4,"SST":17.2,"TI":224},
    {"k":"m","t":2007.0,"HCI":1.0,"LANC":70000,"LSAR":500,"mei_v3":0.2,"N12":23.5,"N34":27.6,"PDO":-0.4,"SOI":0.0,"SST":17.0,"TI":222},
    {"k":"m","t":2007.5,"HCI":1.3,"LANC":50000,"LSAR":500,"mei_v3":-0.7,"N12":22.4,"N34":26.8,"PDO":-0.8,"SOI":0.4,"SST":16.7,"TI":224},
    {"k":"m","t":2008.0,"HCI":1.0,"LANC":45000,"LSAR":500,"mei_v3":-1.0,"N12":22.6,"N34":26.2,"PDO":-1.3,"SOI":1.05,"SST":16.9,"TI":228},
    {"k":"m","t":2008.5,"HCI":0.9,"LANC":50000,"LSAR":500,"mei_v3":-0.8,"N12":23.4,"N34":26.0,"PDO":-1.7,"SOI":0.9,"SST":17.0,"TI":230},
    {"k":"m","t":2009.0,"HCI":1.0,"LANC":40000,"LSAR":500,"mei_v3":-0.6,"N12":23.6,"N34":26.6,"PDO":-1.5,"SOI":0.5,"SST":16.8,"TI":226},
    {"k":"m","t":2009.5,"HCI":1.3,"LANC":55000,"LSAR":500,"mei_v3":0.6,"N12":23.6,"N34":27.4,"PDO":-0.8,"SOI":-0.1,"SST":16.7,"TI":224},
    {"k":"m","t":2010.0,"HCI":1.5,"LANC":50000,"LSAR":500,"mei_v3":0.8,"N12":23.0,"N34":27.8,"PDO":-0.6,"SOI":-0.45,"SST":16.8,"TI":218},
    {"k":"m","t":2010.5,"HCI":1.6,"LANC":65000,"LSAR":500,"mei_v3":-0.8,"N12":22.6,"N34":26.5,"PDO":-1.0,"SOI":1.0,"SST":16.7,"TI":208},
    {"k":"m","t":2011.0,"HCI":1.4,"LANC":60000,"LSAR":500,"mei_v3":-1.5,"N12":22.8,"N34":26.0,"PDO":-1.4,"SOI":1.8,"SST":16.8,"TI":212},
    {"k":"m","t":2011.5,"HCI":1.5,"LANC":55000,"LSAR":500,"mei_v3":-1.1,"N12":22.9,"N34":26.4,"PDO":-1.7,"SOI":1.6,"SST":16.9,"TI":216},
    {"k":"m","t":2012.0,"HCI":1.3,"LANC":70000,"LSAR":500,"mei_v3":-0.8,"N12":23.6,"N34":26.8,"PDO":-1.85,"SOI":0.6,"SST":17.1,"TI":230},
    {"k":"m","t":2012.5,"HCI":1.1,"LANC":65000,"LSAR":500,"mei_v3":-0.2,"N12":23.4,"N34":27.0,"PDO":-2.0,"SOI":0.2,"SST":17.3,"TI":236},
    {"k":"m","t":2013.0,"HCI":1.4,"LANC":60000,"LSAR":500,"mei_v3":0.0,"N12":22.8,"N34":26.9,"PDO":-1.7,"SOI":0.4,"SST":17.3,"TI":240},
    {"k":"m","t":2013.5,"HCI":1.4,"LANC":70000,"LSAR":500,"mei_v3":-0.2,"N12":22.6,"N34":27.0,"PDO":-1.0,"SOI":0.5,"SST":17.2,"TI":238},
    {"k":"m","t":2014.0,"HCI":1.3,"LANC":65000,"LSAR":500,"mei_v3":-0.2,"N12":23.1,"N34":27.0,"PDO":-0.1,"SOI":0.1,"SST":17.4,"TI":234},
    {"k":"m","t":2014.5,"HCI":1.1,"LANC":50000,"LSAR":500,"mei_v3":0.1,"N12":23.7,"N34":27.2,"PDO":0.6,"SOI":-0.2,"SST":17.6,"TI":232},
    {"k":"m","t":2015.0,"HCI":1.0,"LANC":55000,"LSAR":500,"mei_v3":0.9,"N12":24.3,"N34":27.6,"PDO":1.15,"SOI":-0.6,"SST":17.7,"TI":228},
    {"k":"m","t":2015.5,"HCI":0.9,"LANC":45000,"LSAR":500,"mei_v3":1.6,"N12":25.2,"N34":28.6,"PDO":1.15,"SOI":-0.9,"SST":18.0,"TI":230},
    {"k":"m","t":2016.0,"HCI":1.1,"LANC":35000,"LSAR":500,"mei_v3":2.0,"N12":24.8,"N34":28.9,"PDO":1.0,"SOI":-1.2,"SST":18.1,"TI":236},
    {"k":"m","t":2016.5,"HCI":1.0,"LANC":35000,"LSAR":500,"mei_v3":0.9,"N12":23.5,"N34":27.8,"PDO":0.7,"SOI":-0.3,"SST":18.0,"TI":240},
    {"k":"m","t":2017.0,"HCI":1.2,"LANC":40000,"LSAR":500,"mei_v3":-0.3,"N12":23.8,"N34":26.9,"PDO":0.3,"SOI":0.1,"SST":17.8,"TI":244},
    {"k":"m","t":2017.5,"HCI":0.9,"LANC":55000,"LSAR":500,"mei_v3":-0.2,"N12":22.8,"N34":26.9,"PDO":0.05,"SOI":0.3,"SST":17.4,"TI":246},
    {"k":"m","t":2018.0,"HCI":1.0,"LANC":60000,"LSAR":500,"mei_v3":-0.1,"N12":22.4,"N34":26.8,"PDO":-0.2,"SOI":0.5,"SST":17.2,"TI":248},
    {"k":"m","t":2018.5,"HCI":1.1,"LANC":45000,"LSAR":500,"mei_v3":0.0,"N12":23.0,"N34":27.3,"PDO":-0.3,"SOI":0.3,"SST":17.1,"TI":248},
    {"k":"m","t":2019.0,"HCI":0.9,"LANC":35000,"LSAR":500,"mei_v3":0.3,"N12":23.4,"N34":27.6,"PDO":-0.35,"SOI":-0.3,"SST":17.1,"TI":252},
    {"k":"m","t":2019.5,"HCI":1.0,"LANC":40000,"LSAR":500,"mei_v3":0.4,"N12":23.3,"N34":27.5,"PDO":-0.25,"SOI":-0.4,"SST":17.0,"TI":256},
    {"k":"m","t":2020.0,"HCI":1.2,"LANC":30000,"LSAR":500,"mei_v3":0.2,"N12":22.8,"N34":27.3,"PDO":-0.15,"SOI":-0.3,"SST":17.2,"TI":254},
    {"k":"m","t":2020.5,"HCI":1.0,"LANC":35000,"LSAR":500,"mei_v3":-0.4,"N12":22.7,"N34":26.8,"PDO":-0.8,"SOI":0.2,"SST":17.3,"TI":256},
    {"k":"m","t":2021.0,"HCI":1.1,"LANC":40000,"LSAR":500,"mei_v3":-1.1,"N12":22.6,"N34":26.3,"PDO":-1.05,"SOI":0.8,"SST":17.3,"TI":262},
    {"k":"m","t":2021.5,"HCI":1.2,"LANC":30000,"LSAR":500,"mei_v3":-1.0,"N12":22.5,"N34":26.5,"PDO":-1.3,"SOI":0.8,"SST":16.9,"TI":270},
    {"k":"m","t":2022.0,"HCI":1.0,"LANC":30000,"LSAR":500,"mei_v3":-1.3,"N12":22.3,"N34":26.4,"PDO":-1.5,"SOI":0.9,"SST":16.8,"TI":258},
    {"k":"m","t":2022.5,"HCI":0.8,"LANC":35000,"LSAR":500,"mei_v3":-1.4,"N12":22.1,"N34":26.2,"PDO":-2.05,"SOI":1.3,"SST":16.55,"TI":250},
    {"k":"m","t":2023.0,"HCI":1.3,"LANC":40000,"LSAR":500,"mei_v3":-1.5,"N12":22.5,"N34":26.2,"PDO":-2.0,"SOI":1.35,"SST":16.5,"TI":245},
    {"k":"m","t":2023.5,"HCI":1.2,"LANC":30000,"LSAR":1000,"mei_v3":-0.6,"N12":24.0,"N34":26.9,"PDO":-2.2,"SOI":0.7,"SST":18.5,"TI":248},
    {"k":"m","t":2024.0,"HCI":1.2,"LANC":15000,"LSAR":1000,"mei_v3":0.2,"N12":25.3,"N34":27.9,"PDO":-2.3,"SOI":0.0,"TI":256}
  ]},
  "transform": [
    {"fold": ["HCI", "LANC", "LSAR", "mei_v3", "N12", "N34", "PDO", "SOI", "SST", "TI"], "as": ["Variable", "Valor"]},
    {"filter": "isValid(datum.Valor)"}
  ],
  "vconcat": [
    {
      "title": {"text": "Fecha", "orient": "bottom", "anchor": "middle", "fontSize": 15, "fontWeight": "normal", "color": "#000000", "offset": 10, "dx": 32},
      "spacing": 16,
      "hconcat": [
        {
          "spacing": 40,
          "bounds": "flush",
          "vconcat": [
            {
              "title": "HCI", "width": 213, "height": 145,
              "transform": [{"filter": "datum.Variable == 'HCI'"}],
              "encoding": {
                "x": {"field": "t", "type": "quantitative", "title": null, "scale": {"domain": [1959.47, 2026.2], "nice": false, "zero": false},
                      "axis": {"values": [1960, 1970, 1980, 1990, 2000, 2010, 2020], "labels": false, "gridWidth": {"condition": {"test": "datum.value % 20 == 0", "value": 1}, "value": 0.5}}},
                "y": {"field": "Valor", "type": "quantitative", "title": null, "scale": {"zero": false, "nice": false, "padding": 7},
                      "axis": {"values": [-2.5, -2, -1.5, -1, -0.5, 0, 0.5, 1, 1.5, 2, 2.5, 3], "labelExpr": "datum.value % 1 == 0 ? datum.value + '' : ''", "gridWidth": {"condition": {"test": "datum.value % 1 == 0", "value": 1}, "value": 0.5}, "minExtent": 30, "maxExtent": 30}}
              },
              "layer": [
                {"transform": [{"filter": "datum.k == 'r'"}], "mark": {"type": "line", "strokeWidth": 1, "opacity": 0.7},
                 "encoding": {"color": {"field": "Variable", "type": "nominal", "title": "Variable", "scale": {"domain": ["HCI", "LANC", "LSAR", "mei_v3", "N12", "N34", "PDO", "SOI", "SST", "TI"], "range": ["#F8766D", "#D89000", "#A3A500", "#39B600", "#00BF7D", "#00BFC4", "#00B0F6", "#9590FF", "#E76BF3", "#FF62BC"]}, "legend": {"orient": "none", "legendX": 1018, "legendY": 115}}}},
                {"transform": [{"filter": "datum.k == 'm'"}], "mark": {"type": "line", "color": "#000000", "strokeWidth": 1.3}, "encoding": {}}
              ]
            },
            {
              "title": "N12", "width": 213, "height": 145,
              "transform": [{"filter": "datum.Variable == 'N12'"}],
              "encoding": {
                "x": {"field": "t", "type": "quantitative", "title": null, "scale": {"domain": [1959.47, 2026.2], "nice": false, "zero": false},
                      "axis": {"values": [1960, 1970, 1980, 1990, 2000, 2010, 2020], "labels": false, "gridWidth": {"condition": {"test": "datum.value % 20 == 0", "value": 1}, "value": 0.5}}},
                "y": {"field": "Valor", "type": "quantitative", "title": "Valor", "scale": {"zero": false, "nice": false, "padding": 7},
                      "axis": {"values": [19.5, 21, 22.5, 24, 25.5, 27, 28.5], "labelExpr": "(datum.value - 21) % 3 == 0 ? datum.value + '' : ''", "gridWidth": {"condition": {"test": "(datum.value - 21) % 3 == 0", "value": 1}, "value": 0.5}, "minExtent": 30, "maxExtent": 30, "titlePadding": 9}}
              },
              "layer": [
                {"transform": [{"filter": "datum.k == 'r'"}], "mark": {"type": "line", "strokeWidth": 1, "opacity": 0.7},
                 "encoding": {"color": {"field": "Variable", "type": "nominal", "title": "Variable", "scale": {"domain": ["HCI", "LANC", "LSAR", "mei_v3", "N12", "N34", "PDO", "SOI", "SST", "TI"], "range": ["#F8766D", "#D89000", "#A3A500", "#39B600", "#00BF7D", "#00BFC4", "#00B0F6", "#9590FF", "#E76BF3", "#FF62BC"]}, "legend": {"orient": "none", "legendX": 1018, "legendY": 115}}}},
                {"transform": [{"filter": "datum.k == 'm'"}], "mark": {"type": "line", "color": "#000000", "strokeWidth": 1.3}, "encoding": {}}
              ]
            },
            {
              "title": "SST", "width": 213, "height": 145,
              "transform": [{"filter": "datum.Variable == 'SST'"}],
              "encoding": {
                "x": {"field": "t", "type": "quantitative", "title": null, "scale": {"domain": [1959.47, 2026.2], "nice": false, "zero": false},
                      "axis": {"values": [1960, 1970, 1980, 1990, 2000, 2010, 2020], "labelExpr": "datum.value % 20 == 0 ? datum.value + '' : ''", "gridWidth": {"condition": {"test": "datum.value % 20 == 0", "value": 1}, "value": 0.5}}},
                "y": {"field": "Valor", "type": "quantitative", "title": null, "scale": {"zero": false, "nice": false, "padding": 7},
                      "axis": {"values": [13.75, 15, 16.25, 17.5, 18.75, 20, 21.25, 22.5, 23.75], "labelExpr": "datum.value % 2.5 == 0 ? format(datum.value, '.1f') : ''", "gridWidth": {"condition": {"test": "datum.value % 2.5 == 0", "value": 1}, "value": 0.5}, "minExtent": 30, "maxExtent": 30}}
              },
              "layer": [
                {"transform": [{"filter": "datum.k == 'r'"}], "mark": {"type": "line", "strokeWidth": 1, "opacity": 0.7},
                 "encoding": {"color": {"field": "Variable", "type": "nominal", "title": "Variable", "scale": {"domain": ["HCI", "LANC", "LSAR", "mei_v3", "N12", "N34", "PDO", "SOI", "SST", "TI"], "range": ["#F8766D", "#D89000", "#A3A500", "#39B600", "#00BF7D", "#00BFC4", "#00B0F6", "#9590FF", "#E76BF3", "#FF62BC"]}, "legend": {"orient": "none", "legendX": 1018, "legendY": 115}}}},
                {"transform": [{"filter": "datum.k == 'm'"}], "mark": {"type": "line", "color": "#000000", "strokeWidth": 1.3}, "encoding": {}}
              ]
            }
          ]
        },
        {
          "spacing": 40,
          "bounds": "flush",
          "vconcat": [
            {
              "title": "LANC", "width": 213, "height": 145,
              "transform": [{"filter": "datum.Variable == 'LANC'"}],
              "encoding": {
                "x": {"field": "t", "type": "quantitative", "title": null, "scale": {"domain": [1959.47, 2026.2], "nice": false, "zero": false},
                      "axis": {"values": [1960, 1970, 1980, 1990, 2000, 2010, 2020], "labels": false, "gridWidth": {"condition": {"test": "datum.value % 20 == 0", "value": 1}, "value": 0.5}}},
                "y": {"field": "Valor", "type": "quantitative", "title": null, "scale": {"zero": false, "nice": false, "padding": 7},
                      "axis": {"values": [0, 50000, 100000, 150000, 200000, 250000, 300000, 350000, 400000], "labelExpr": "datum.value % 100000 == 0 ? (datum.value == 0 ? '0e+00' : format(datum.value / 100000, 'd') + 'e+05') : ''", "gridWidth": {"condition": {"test": "datum.value % 100000 == 0", "value": 1}, "value": 0.5}, "minExtent": 39, "maxExtent": 39}}
              },
              "layer": [
                {"transform": [{"filter": "datum.k == 'r'"}], "mark": {"type": "line", "strokeWidth": 1, "opacity": 0.7},
                 "encoding": {"color": {"field": "Variable", "type": "nominal", "title": "Variable", "scale": {"domain": ["HCI", "LANC", "LSAR", "mei_v3", "N12", "N34", "PDO", "SOI", "SST", "TI"], "range": ["#F8766D", "#D89000", "#A3A500", "#39B600", "#00BF7D", "#00BFC4", "#00B0F6", "#9590FF", "#E76BF3", "#FF62BC"]}, "legend": {"orient": "none", "legendX": 1018, "legendY": 115}}}},
                {"transform": [{"filter": "datum.k == 'm'"}], "mark": {"type": "line", "color": "#000000", "strokeWidth": 1.3}, "encoding": {}}
              ]
            },
            {
              "title": "N34", "width": 213, "height": 145,
              "transform": [{"filter": "datum.Variable == 'N34'"}],
              "encoding": {
                "x": {"field": "t", "type": "quantitative", "title": null, "scale": {"domain": [1959.47, 2026.2], "nice": false, "zero": false},
                      "axis": {"values": [1960, 1970, 1980, 1990, 2000, 2010, 2020], "labels": false, "gridWidth": {"condition": {"test": "datum.value % 20 == 0", "value": 1}, "value": 0.5}}},
                "y": {"field": "Valor", "type": "quantitative", "title": null, "scale": {"zero": false, "nice": false, "padding": 7},
                      "axis": {"values": [24.5, 25, 25.5, 26, 26.5, 27, 27.5, 28, 28.5, 29, 29.5], "labelExpr": "datum.value % 1 == 0 ? datum.value + '' : ''", "gridWidth": {"condition": {"test": "datum.value % 1 == 0", "value": 1}, "value": 0.5}, "minExtent": 39, "maxExtent": 39}}
              },
              "layer": [
                {"transform": [{"filter": "datum.k == 'r'"}], "mark": {"type": "line", "strokeWidth": 1, "opacity": 0.7},
                 "encoding": {"color": {"field": "Variable", "type": "nominal", "title": "Variable", "scale": {"domain": ["HCI", "LANC", "LSAR", "mei_v3", "N12", "N34", "PDO", "SOI", "SST", "TI"], "range": ["#F8766D", "#D89000", "#A3A500", "#39B600", "#00BF7D", "#00BFC4", "#00B0F6", "#9590FF", "#E76BF3", "#FF62BC"]}, "legend": {"orient": "none", "legendX": 1018, "legendY": 115}}}},
                {"transform": [{"filter": "datum.k == 'm'"}], "mark": {"type": "line", "color": "#000000", "strokeWidth": 1.3}, "encoding": {}}
              ]
            },
            {
              "title": "TI", "width": 213, "height": 145,
              "transform": [{"filter": "datum.Variable == 'TI'"}],
              "encoding": {
                "x": {"field": "t", "type": "quantitative", "title": null, "scale": {"domain": [1959.47, 2026.2], "nice": false, "zero": false},
                      "axis": {"values": [1960, 1970, 1980, 1990, 2000, 2010, 2020], "labelExpr": "datum.value % 20 == 0 ? datum.value + '' : ''", "gridWidth": {"condition": {"test": "datum.value % 20 == 0", "value": 1}, "value": 0.5}}},
                "y": {"field": "Valor", "type": "quantitative", "title": null, "scale": {"zero": false, "nice": false, "padding": 7},
                      "axis": {"values": [100, 200, 300, 400, 500, 600, 700], "labelExpr": "datum.value % 200 == 0 ? datum.value + '' : ''", "gridWidth": {"condition": {"test": "datum.value % 200 == 0", "value": 1}, "value": 0.5}, "minExtent": 39, "maxExtent": 39}}
              },
              "layer": [
                {"transform": [{"filter": "datum.k == 'r'"}], "mark": {"type": "line", "strokeWidth": 1, "opacity": 0.7},
                 "encoding": {"color": {"field": "Variable", "type": "nominal", "title": "Variable", "scale": {"domain": ["HCI", "LANC", "LSAR", "mei_v3", "N12", "N34", "PDO", "SOI", "SST", "TI"], "range": ["#F8766D", "#D89000", "#A3A500", "#39B600", "#00BF7D", "#00BFC4", "#00B0F6", "#9590FF", "#E76BF3", "#FF62BC"]}, "legend": {"orient": "none", "legendX": 1018, "legendY": 115}}}},
                {"transform": [{"filter": "datum.k == 'm'"}], "mark": {"type": "line", "color": "#000000", "strokeWidth": 1.3}, "encoding": {}}
              ]
            }
          ]
        },
        {
          "spacing": 40,
          "bounds": "flush",
          "vconcat": [
            {
              "title": "LSAR", "width": 213, "height": 145,
              "transform": [{"filter": "datum.Variable == 'LSAR'"}],
              "encoding": {
                "x": {"field": "t", "type": "quantitative", "title": null, "scale": {"domain": [1959.47, 2026.2], "nice": false, "zero": false},
                      "axis": {"values": [1960, 1970, 1980, 1990, 2000, 2010, 2020], "labels": false, "gridWidth": {"condition": {"test": "datum.value % 20 == 0", "value": 1}, "value": 0.5}}},
                "y": {"field": "Valor", "type": "quantitative", "title": null, "scale": {"zero": false, "nice": false, "padding": 7},
                      "axis": {"values": [0, 50000, 100000, 150000, 200000, 250000, 300000, 350000, 400000, 450000, 500000], "labelExpr": "datum.value % 100000 == 0 ? (datum.value == 0 ? '0e+00' : format(datum.value / 100000, 'd') + 'e+05') : ''", "gridWidth": {"condition": {"test": "datum.value % 100000 == 0", "value": 1}, "value": 0.5}, "minExtent": 39, "maxExtent": 39}}
              },
              "layer": [
                {"transform": [{"filter": "datum.k == 'r'"}], "mark": {"type": "line", "strokeWidth": 1, "opacity": 0.7},
                 "encoding": {"color": {"field": "Variable", "type": "nominal", "title": "Variable", "scale": {"domain": ["HCI", "LANC", "LSAR", "mei_v3", "N12", "N34", "PDO", "SOI", "SST", "TI"], "range": ["#F8766D", "#D89000", "#A3A500", "#39B600", "#00BF7D", "#00BFC4", "#00B0F6", "#9590FF", "#E76BF3", "#FF62BC"]}, "legend": {"orient": "none", "legendX": 1018, "legendY": 115}}}},
                {"transform": [{"filter": "datum.k == 'm'"}], "mark": {"type": "line", "color": "#000000", "strokeWidth": 1.3}, "encoding": {}}
              ]
            },
            {
              "title": "PDO", "width": 213, "height": 145,
              "transform": [{"filter": "datum.Variable == 'PDO'"}],
              "encoding": {
                "x": {"field": "t", "type": "quantitative", "title": null, "scale": {"domain": [1959.47, 2026.2], "nice": false, "zero": false},
                      "axis": {"values": [1960, 1970, 1980, 1990, 2000, 2010, 2020], "labelExpr": "datum.value % 20 == 0 ? datum.value + '' : ''", "gridWidth": {"condition": {"test": "datum.value % 20 == 0", "value": 1}, "value": 0.5}}},
                "y": {"field": "Valor", "type": "quantitative", "title": null, "scale": {"zero": false, "nice": false, "padding": 7},
                      "axis": {"values": [-3, -2.5, -2, -1.5, -1, -0.5, 0, 0.5, 1, 1.5, 2, 2.5], "labelExpr": "datum.value % 1 == 0 ? datum.value + '' : ''", "gridWidth": {"condition": {"test": "datum.value % 1 == 0", "value": 1}, "value": 0.5}, "minExtent": 39, "maxExtent": 39}}
              },
              "layer": [
                {"transform": [{"filter": "datum.k == 'r'"}], "mark": {"type": "line", "strokeWidth": 1, "opacity": 0.7},
                 "encoding": {"color": {"field": "Variable", "type": "nominal", "title": "Variable", "scale": {"domain": ["HCI", "LANC", "LSAR", "mei_v3", "N12", "N34", "PDO", "SOI", "SST", "TI"], "range": ["#F8766D", "#D89000", "#A3A500", "#39B600", "#00BF7D", "#00BFC4", "#00B0F6", "#9590FF", "#E76BF3", "#FF62BC"]}, "legend": {"orient": "none", "legendX": 1018, "legendY": 115}}}},
                {"transform": [{"filter": "datum.k == 'm'"}], "mark": {"type": "line", "color": "#000000", "strokeWidth": 1.3}, "encoding": {}}
              ]
            }
          ]
        },
        {
          "spacing": 40,
          "bounds": "flush",
          "vconcat": [
            {
              "title": "mei_v3", "width": 213, "height": 145,
              "transform": [{"filter": "datum.Variable == 'mei_v3'"}],
              "encoding": {
                "x": {"field": "t", "type": "quantitative", "title": null, "scale": {"domain": [1959.47, 2026.2], "nice": false, "zero": false},
                      "axis": {"values": [1960, 1970, 1980, 1990, 2000, 2010, 2020], "labels": false, "gridWidth": {"condition": {"test": "datum.value % 20 == 0", "value": 1}, "value": 0.5}}},
                "y": {"field": "Valor", "type": "quantitative", "title": null, "scale": {"zero": false, "nice": false, "padding": 7},
                      "axis": {"values": [-2.5, -2, -1.5, -1, -0.5, 0, 0.5, 1, 1.5, 2, 2.5, 3], "labelExpr": "datum.value % 1 == 0 ? datum.value + '' : ''", "gridWidth": {"condition": {"test": "datum.value % 1 == 0", "value": 1}, "value": 0.5}, "minExtent": 14, "maxExtent": 14}}
              },
              "layer": [
                {"transform": [{"filter": "datum.k == 'r'"}], "mark": {"type": "line", "strokeWidth": 1, "opacity": 0.7},
                 "encoding": {"color": {"field": "Variable", "type": "nominal", "title": "Variable", "scale": {"domain": ["HCI", "LANC", "LSAR", "mei_v3", "N12", "N34", "PDO", "SOI", "SST", "TI"], "range": ["#F8766D", "#D89000", "#A3A500", "#39B600", "#00BF7D", "#00BFC4", "#00B0F6", "#9590FF", "#E76BF3", "#FF62BC"]}, "legend": {"orient": "none", "legendX": 1018, "legendY": 115}}}},
                {"transform": [{"filter": "datum.k == 'm'"}], "mark": {"type": "line", "color": "#000000", "strokeWidth": 1.3}, "encoding": {}}
              ]
            },
            {
              "title": "SOI", "width": 213, "height": 145,
              "transform": [{"filter": "datum.Variable == 'SOI'"}],
              "encoding": {
                "x": {"field": "t", "type": "quantitative", "title": null, "scale": {"domain": [1959.47, 2026.2], "nice": false, "zero": false},
                      "axis": {"values": [1960, 1970, 1980, 1990, 2000, 2010, 2020], "labelExpr": "datum.value % 20 == 0 ? datum.value + '' : ''", "gridWidth": {"condition": {"test": "datum.value % 20 == 0", "value": 1}, "value": 0.5}}},
                "y": {"field": "Valor", "type": "quantitative", "title": null, "scale": {"zero": false, "nice": false, "padding": 7},
                      "axis": {"values": [-3, -2, -1, 0, 1, 2, 3], "labelExpr": "datum.value % 2 == 0 ? datum.value + '' : ''", "gridWidth": {"condition": {"test": "datum.value % 2 == 0", "value": 1}, "value": 0.5}, "minExtent": 14, "maxExtent": 14}}
              },
              "layer": [
                {"transform": [{"filter": "datum.k == 'r'"}], "mark": {"type": "line", "strokeWidth": 1, "opacity": 0.7},
                 "encoding": {"color": {"field": "Variable", "type": "nominal", "title": "Variable", "scale": {"domain": ["HCI", "LANC", "LSAR", "mei_v3", "N12", "N34", "PDO", "SOI", "SST", "TI"], "range": ["#F8766D", "#D89000", "#A3A500", "#39B600", "#00BF7D", "#00BFC4", "#00B0F6", "#9590FF", "#E76BF3", "#FF62BC"]}, "legend": {"orient": "none", "legendX": 1018, "legendY": 115}}}},
                {"transform": [{"filter": "datum.k == 'm'"}], "mark": {"type": "line", "color": "#000000", "strokeWidth": 1.3}, "encoding": {}}
              ]
            }
          ]
        }
      ]
    }
  ],
  "config": {
    "font": "Liberation Sans",
    "view": {"stroke": null},
    "title": {"fontSize": 12, "fontWeight": "normal", "color": "#1A1A1A", "offset": 5, "anchor": "middle"},
    "axis": {
      "domain": false,
      "ticks": false,
      "gridColor": "#EBEBEB",
      "labelColor": "#4D4D4D",
      "labelFontSize": 12,
      "labelPadding": 3,
      "titleFontSize": 15,
      "titleFontWeight": "normal",
      "titleColor": "#000000"
    },
    "axisX": {"labelPadding": 8},
    "legend": {
      "titleFontSize": 15,
      "titleFontWeight": "normal",
      "titleColor": "#000000",
      "titlePadding": 12,
      "labelFontSize": 12,
      "labelColor": "#1A1A1A",
      "labelOffset": 10,
      "symbolType": "stroke",
      "symbolSize": 500,
      "symbolStrokeWidth": 1.5,
      "symbolOpacity": 0.6,
      "rowPadding": 5.5
    }
  }
}
